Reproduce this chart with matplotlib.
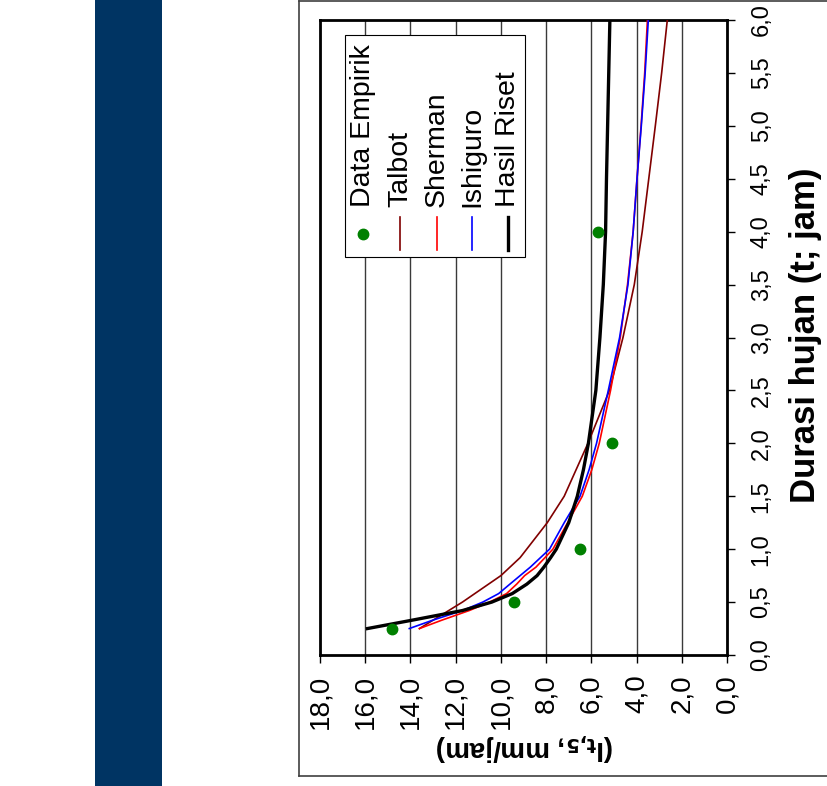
import matplotlib
matplotlib.use('Agg')
import matplotlib.pyplot as plt
from matplotlib.patches import Rectangle
from matplotlib.lines import Line2D
from matplotlib.ticker import MultipleLocator, FuncFormatter

plt.rcParams['font.family'] = ['Liberation Sans', 'DejaVu Sans']

# durasi hujan (jam)
durasi = [0.25, 0.33, 0.42, 0.5, 0.58, 0.67, 0.75, 0.83, 0.92, 1.0, 1.25, 1.5, 1.75,
          2.0, 2.5, 3.0, 3.5, 4.0, 4.5, 5.0, 5.5, 6.0]
sherman = [13.6, 12.6, 11.4, 10.5, 9.75, 9.3, 8.95, 8.45, 8.05, 7.7, 7.05, 6.4, 5.98,
           5.65, 5.15, 4.72, 4.4, 4.15, 3.98, 3.8, 3.64, 3.52]
ishiguro = [14.05, 13.0, 11.7, 10.8, 10.1, 9.6, 9.15, 8.7, 8.25, 7.85, 7.2, 6.5, 6.1,
            5.77, 5.25, 4.75, 4.38, 4.15, 3.98, 3.79, 3.62, 3.48]
hasil_riset = [15.9, 13.9, 11.7, 10.4, 9.5, 8.85, 8.4, 8.1, 7.8, 7.55, 7.0, 6.62, 6.35,
               6.13, 5.8, 5.62, 5.47, 5.37, 5.33, 5.28, 5.23, 5.18]

durasi_talbot = [0.25, 0.5, 0.75, 0.92, 1.25, 1.5, 2.0, 2.5, 3.0, 3.5, 4.0, 4.5, 5.0, 5.5, 6.0]
talbot = [13.6, 11.7, 10.0, 9.15, 7.95, 7.2, 6.15, 5.2, 4.6, 4.1, 3.75, 3.46, 3.17, 2.89, 2.64]

t_emp = [0.25, 0.5, 1.0, 2.0, 4.0]
i_emp = [14.8, 9.4, 6.5, 5.1, 5.7]

legend_names = ['Data Empirik', 'Talbot', 'Sherman', 'Ishiguro', 'Hasil Riset']

W, H = 827, 786


def fx(x):
    return x / W


def fy(y):
    return (H - y) / H


fig = plt.figure(figsize=(W / 100, H / 100), dpi=100)

# blue bar of the slide and the frame around the chart
fig.add_artist(Rectangle((fx(95), 0), fx(162) - fx(95), 1, transform=fig.transFigure,
                         facecolor='#003463', edgecolor='none'))
frame = dict(color='#404040', lw=1.2, transform=fig.transFigure)
fig.add_artist(Line2D([fx(299), 1], [fy(1), fy(1)], **frame))
fig.add_artist(Line2D([fx(299), fx(299)], [fy(1), fy(776)], **frame))
fig.add_artist(Line2D([fx(299), 1], [fy(776), fy(776)], **frame))

ax = fig.add_axes([fx(320), fy(655), fx(727) - fx(320), fy(20) - fy(655)])

ax.plot(talbot, durasi_talbot, color='#800000', lw=1.2, zorder=3)
ax.plot(sherman, durasi, color='#ff0000', lw=1.2, zorder=3)
ax.plot(ishiguro, durasi, color='#0000ff', lw=1.2, zorder=3)
ax.plot(hasil_riset, durasi, color='black', lw=2.4, zorder=4)
ax.plot(i_emp, t_emp, 'o', color='#008000', ms=7.5, zorder=5)

ax.set_xlim(18, 0)
ax.set_ylim(0, 6)
ax.xaxis.set_major_locator(MultipleLocator(2))
ax.yaxis.set_major_locator(MultipleLocator(0.5))
fmt = FuncFormatter(lambda v, p: f'{v:.1f}'.replace('.', ','))
ax.xaxis.set_major_formatter(fmt)
ax.yaxis.set_major_formatter(fmt)
ax.yaxis.tick_right()
ax.grid(axis='x', color='#3a3a3a', lw=1.0, zorder=1)
ax.set_axisbelow(True)

for s in ax.spines.values():
    s.set_linewidth(2.0)
ax.tick_params(axis='x', direction='out', length=6, width=1, pad=8, labelsize=20, labelrotation=90)
ax.tick_params(axis='y', direction='out', length=6, width=1, pad=11, labelsize=17, labelrotation=90)
for lab in ax.get_yticklabels():
    lab.set_va('center')

fig.text(fx(806), fy(335), 'Durasi hujan (t; jam)', rotation=90, ha='center', va='center',
         fontsize=25, fontweight='bold')
fig.text(fx(525), fy(747), r'(I$_{\mathbf{t{,}5}}$, mm/jam)', rotation=180, ha='center', va='center',
         fontsize=20, fontweight='bold')

# legend, written vertically like the rest of the chart
fig.add_artist(Rectangle((fx(345), fy(257)), fx(525) - fx(345), fy(35) - fy(257),
                         transform=fig.transFigure, facecolor='white', edgecolor='black',
                         lw=0.8, zorder=6))
cols = [363, 400, 437, 472, 508]
colors = ['#008000', '#800000', '#ff0000', '#0000ff', 'black']
widths = [0, 1.2, 1.2, 1.2, 2.4]
for k in range(len(legend_names)):
    cx = fx(cols[k])
    if k == 0:
        fig.add_artist(Line2D([cx], [fy(234)], marker='o', ms=7.5, color=colors[k],
                              transform=fig.transFigure, zorder=7))
    else:
        fig.add_artist(Line2D([cx, cx], [fy(250), fy(217)], color=colors[k], lw=widths[k],
                              transform=fig.transFigure, zorder=7))
    fig.text(cx, fy(207), legend_names[k], rotation=90, ha='center', va='bottom',
             fontsize=20.5, zorder=7)

fig.savefig('out.png', dpi=100)
